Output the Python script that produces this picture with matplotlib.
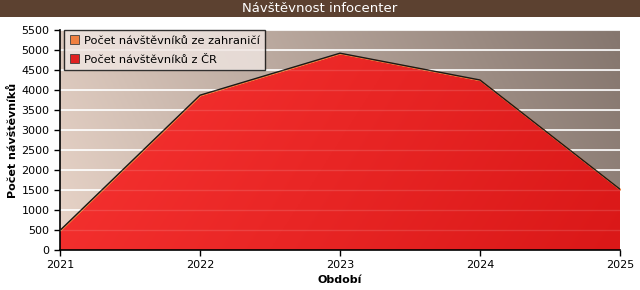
import numpy as np
import matplotlib.pyplot as plt
from matplotlib.patches import Patch

years = [2021, 2022, 2023, 2024, 2025]
cr_visitors = [490, 3870, 4920, 4250, 1520]
foreign_visitors = [0, 0, 0, 0, 0]
yticks = list(range(0, 5501, 500))

fig = plt.figure(figsize=(6.4, 2.9), dpi=100)
fig.patch.set_facecolor('white')

# title bar
fig.patches.append(plt.Rectangle((0, 1 - 17 / 290), 1, 17 / 290, transform=fig.transFigure,
                                 facecolor='#5c4130', edgecolor='none', zorder=0))
fig.text(0.5, 1 - 8.5 / 290, 'Návštěvnost infocenter', color='white', fontsize=9.5,
         ha='center', va='center')

ax = fig.add_axes([60 / 640, 40 / 290, 560 / 640, 220 / 290])

# diagonal background gradient
gx, gy = np.meshgrid(np.linspace(0, 1, 200), np.linspace(0, 1, 100))
t = np.clip(0.85 * gx + 0.15 * (1 - gy), 0, 1)
c0 = np.array([232, 212, 200]) / 255
c1 = np.array([133, 118, 110]) / 255
bg = c0[None, None, :] * (1 - t[..., None]) + c1[None, None, :] * t[..., None]
ax.imshow(bg, extent=[0, 1, 0, 1], transform=ax.transAxes, aspect='auto', zorder=0)

ax.set_xlim(2021, 2025)
ax.set_ylim(0, 5500)
ax.set_yticks(yticks)
ax.set_xticks(years)
for yv in yticks[1:]:
    ax.axhline(yv, color='white', lw=1.2, zorder=1)

# stacked areas
base = np.array(cr_visitors)
poly = ax.fill_between(years, 0, base, facecolor='none', edgecolor='none', zorder=2)
r0 = np.array([248, 52, 50]) / 255
r1 = np.array([218, 24, 24]) / 255
t2 = np.clip(0.8 * gx + 0.2 * gy, 0, 1)
rg = r0[None, None, :] * (1 - t2[..., None]) + r1[None, None, :] * t2[..., None]
im = ax.imshow(rg, extent=[0, 1, 0, 1], transform=ax.transAxes, aspect='auto', zorder=2)
im.set_clip_path(poly.get_paths()[0], transform=ax.transData)
ax.fill_between(years, base, base + np.array(foreign_visitors), color='#f08040', zorder=2)
ax.plot(years, base, color='#181818', lw=1.0, zorder=3)
for yv in yticks[1:]:
    ax.axhline(yv, color='white', lw=1.0, alpha=0.13, zorder=3)

for s in ['top', 'right']:
    ax.spines[s].set_visible(False)
ax.spines['left'].set_linewidth(1.2)
ax.spines['bottom'].set_linewidth(1.2)
ax.tick_params(labelsize=8, length=4, width=1, direction='out')
ax.set_xlabel('Období', fontsize=8, fontweight='bold', labelpad=3)
ax.set_ylabel('Počet návštěvníků', fontsize=8, fontweight='bold')
ax.yaxis.set_label_coords(-0.075, 0.5)

handles = [Patch(facecolor='#f08040', edgecolor='#404040', lw=0.6),
           Patch(facecolor='#e02020', edgecolor='#404040', lw=0.6)]
leg = ax.legend(handles, ['Počet návštěvníků ze zahraničí', 'Počet návštěvníků z ČR'],
                loc='upper left', bbox_to_anchor=(0.008, 1.0), fontsize=8.2,
                fancybox=False, framealpha=0.8, edgecolor='black', borderpad=0.45,
                handlelength=0.85, handleheight=0.85, handletextpad=0.45, labelspacing=0.75,
                borderaxespad=0.0)
leg.get_frame().set_linewidth(1.0)
leg.get_frame().set_facecolor('#f0e6e2')
leg.set_zorder(5)

fig.savefig('out.png', dpi=100)
